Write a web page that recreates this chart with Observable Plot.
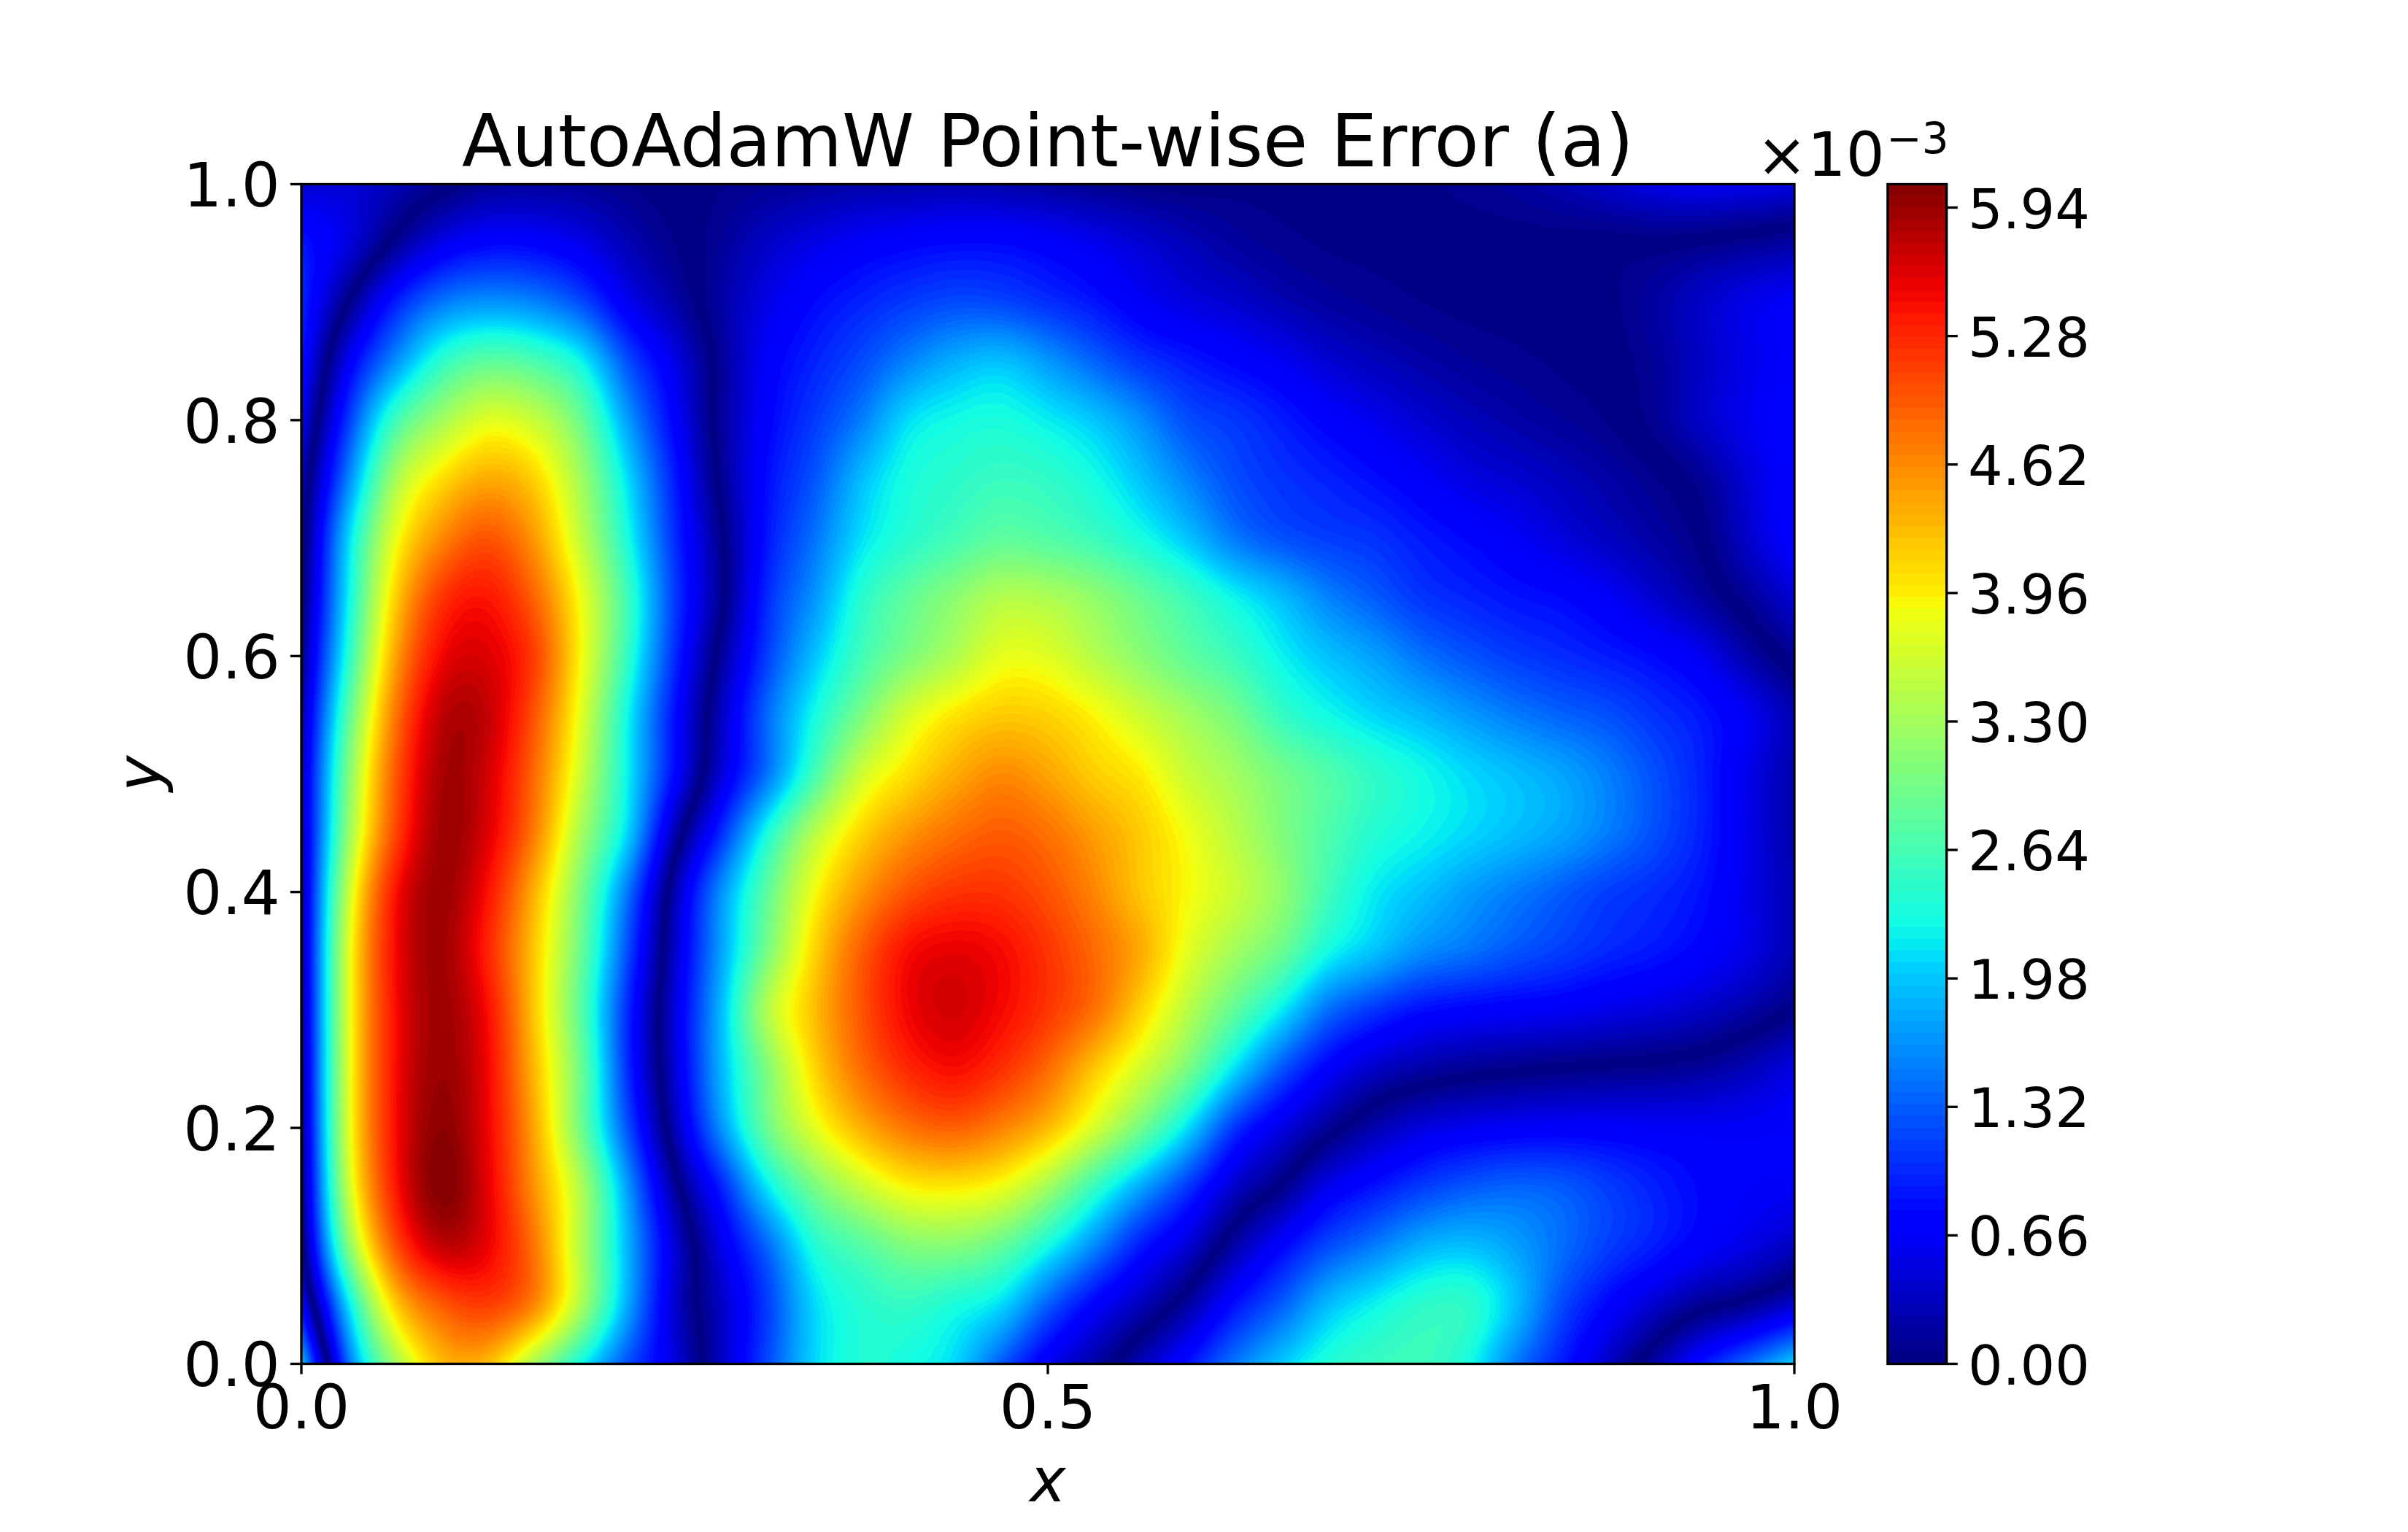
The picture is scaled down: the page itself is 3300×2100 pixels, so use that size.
<!DOCTYPE html>
<html>
<head>
<meta charset="utf-8">
<script src="https://cdn.jsdelivr.net/npm/d3@7"></script>
<script src="https://cdn.jsdelivr.net/npm/@observablehq/plot@0.6"></script>
<style>
html,body{margin:0;padding:0;background:#fff}
#chart{position:relative;width:3300px;height:2100px;overflow:hidden}
#chart svg{position:absolute;left:0;top:0;background:transparent}
</style>
</head>
<body>
<div id="chart"></div>
<script>
const titleText = "AutoAdamW Point-wise Error (a)";
const xLabel = "x";
const yLabel = "y";
const xTicks = [0, 0.5, 1];
const yTicks = [0, 0.2, 0.4, 0.6, 0.8, 1];
const barTicks = [0, 0.66, 1.32, 1.98, 2.64, 3.30, 3.96, 4.62, 5.28, 5.94];
const levelMax = 6.06;
const levelCount = 100;
const jetStops = [0, 0.11, 0.125, 0.34, 0.35, 0.375, 0.64, 0.65, 0.66, 0.89, 0.91, 1];
const jetColors = ["#000080","#0000ff","#0000ff","#00d5ff","#00e5f7","#13fce4","#f4ff0e","#fff000","#ffe800","#ff1400","#f10000","#800000"];

// Error, in units of 1e-3, at x = i/32 (columns) and y = 1 - j/20 (rows).
// The sign only tells the two sides of each dark zero valley apart; the chart draws the magnitude.
const errorRows = [
/*1.00*/[-.4,-.45,-.3,-.08,.12,.15,.12,.05,0,-.05,-.1,-.15,-.2,-.22,-.25,-.22,-.15,-.08,-.02,0,-.03,-.03,-.05,-.06,-.05,-.08,-.15,-.25,-.4,-.55,-.62,-.58,-.5],
/*0.95*/[-.9,-.55,.05,.55,.75,.72,.55,.25,.05,-.12,-.38,-.55,-.68,-.75,-.8,-.8,-.72,-.6,-.45,-.3,-.15,-.08,-.04,-.04,-.05,-.02,-.01,0,.03,.02,.06,.12,.2],
/*0.90*/[-1,0,.95,1.5,1.65,1.55,1.2,.55,.2,-.2,-.55,-.8,-.95,-1.1,-1.2,-1.15,-1,-.85,-.62,-.48,-.4,-.25,-.15,-.09,-.05,-.03,-.02,-.01,.03,.18,.4,.58,.7],
/*0.85*/[-.85,.65,1.6,2.5,2.85,2.7,2.3,1.2,.55,-.12,-.7,-.95,-1.2,-1.55,-1.85,-2,-1.7,-1.35,-1.05,-.9,-.75,-.62,-.42,-.3,-.2,-.12,-.08,-.04,-.01,.12,.35,.55,.72],
/*0.80*/[-.6,1.1,2.65,3.3,3.8,3.6,2.95,1.7,.7,-.15,-.75,-1.1,-1.5,-2.15,-2.3,-2.35,-2.2,-2,-1.65,-1.2,-1.1,-.92,-.72,-.58,-.42,-.3,-.2,-.12,-.05,.1,.4,.6,.78],
/*0.75*/[-.3,1.55,3.4,4.1,4.45,4.2,3.3,2.1,.9,-.1,-.85,-1.25,-1.95,-2.35,-2.45,-2.55,-2.5,-2.3,-1.95,-1.55,-1.2,-1.05,-.95,-.82,-.67,-.5,-.42,-.32,-.2,-.08,.08,.45,.8],
/*0.70*/[-.2,2.1,3.85,4.65,5.05,4.55,3.5,2.3,1,.05,-.9,-1.45,-2.12,-2.4,-2.6,-2.8,-2.7,-2.55,-2.3,-1.95,-1.45,-1.2,-1.1,-1.05,-.9,-.78,-.65,-.47,-.32,-.18,-.03,.4,.78],
/*0.65*/[-.1,2.2,4.2,5.25,5.45,4.9,3.85,2.6,1.1,.1,-1.05,-1.65,-2.45,-2.85,-3.15,-3.45,-3.4,-3.2,-2.9,-2.6,-2.25,-1.95,-1.55,-1.3,-1.05,-.95,-.85,-.8,-.65,-.4,-.15,.12,.45],
/*0.60*/[.05,2.4,4.5,5.55,5.65,5.2,3.9,2.5,1,-.15,-1.15,-1.95,-2.6,-3,-3.35,-3.8,-3.75,-3.4,-3.1,-2.8,-2.55,-2.2,-1.95,-1.75,-1.45,-1.25,-1.1,-1,-.9,-.8,-.62,-.2,.1],
/*0.55*/[.2,2.8,4.8,5.85,5.8,5,3.75,2.2,.8,-.35,-1.45,-2.3,-3,-3.7,-4.05,-4.2,-4.15,-3.95,-3.6,-3.3,-3,-2.5,-2.25,-2.05,-1.9,-1.7,-1.5,-1.35,-1.25,-1.05,-.9,-.65,-.25],
/*0.50*/[.3,3.1,5,5.95,5.7,4.85,3.6,2.2,.8,-.45,-1.4,-2.6,-3.65,-4.05,-4.4,-4.65,-4.45,-4.15,-4,-3.55,-3.3,-3,-2.75,-2.5,-2.3,-2.1,-1.95,-1.8,-1.55,-1.25,-.95,-.55,-.2],
/*0.45*/[.25,3.25,5.1,6,5.65,4.75,3.3,2.12,.2,-1,-2.4,-3.5,-4.15,-4.55,-4.8,-4.95,-4.8,-4.5,-4.2,-3.85,-3.45,-3.05,-2.7,-2.4,-2.25,-2.1,-1.95,-1.8,-1.55,-1.25,-.95,-.55,-.2],
/*0.40*/[.2,3.65,5.5,6,5.45,4.35,3,1.45,-.3,-1.7,-2.85,-3.9,-4.55,-5,-5.2,-5.2,-5,-4.65,-4.2,-3.9,-3.6,-3.2,-2.6,-2.15,-1.95,-1.7,-1.5,-1.3,-1.1,-1,-.85,-.55,-.25],
/*0.35*/[.18,3.85,5.55,5.98,5.3,4.2,2.9,1.2,-.4,-1.75,-3,-4.15,-4.95,-5.5,-5.6,-5.5,-5.2,-4.85,-4.45,-3.75,-3.3,-2.95,-2.3,-2,-1.65,-1.5,-1.3,-1.15,-1,-.9,-.75,-.55,-.25],
/*0.30*/[.15,3.85,5.5,5.98,5.5,4.2,2.75,.95,-.5,-1.9,-3.55,-4.3,-5,-5.55,-5.7,-5.5,-5.2,-4.85,-4.15,-3.45,-2.85,-2.2,-1.4,-1.05,-.8,-.72,-.68,-.65,-.55,-.48,-.38,-.22,-.02],
/*0.25*/[.12,3.85,5.5,6,5.55,4.3,2.95,.95,-.45,-1.9,-3.05,-4.15,-4.85,-5.3,-5.5,-5.25,-4.85,-4.2,-3.65,-3.05,-2.12,-1.25,-.67,-.35,-.2,-.1,-.04,.02,.05,.08,.15,.3,.55],
/*0.20*/[.08,3.85,5.5,6.08,5.55,4.45,2.9,1.2,-.3,-1.7,-3,-3.8,-4.4,-4.8,-4.95,-4.7,-4.35,-3.7,-3,-2.12,-1,-.5,-.12,.25,.5,.6,.65,.68,.68,.66,.65,.66,.7],
/*0.15*/[0,3.7,5.45,6.18,5.6,4.55,3.45,1.7,.1,-.9,-2.2,-3,-3.55,-3.95,-4,-3.85,-3.3,-2.5,-1.75,-1.05,-.35,0,.6,.85,1.1,1.3,1.4,1.35,1.15,.95,.78,.68,.65],
/*0.10*/[-.1,3.2,5.1,5.85,5.6,4.8,3.4,1.85,.45,-.55,-1.35,-2.4,-2.7,-3.05,-3.1,-2.85,-2.3,-1.6,-.85,-.45,.2,.75,1.2,1.5,1.85,1.95,1.75,1.45,1.15,.95,.72,.55,.35],
/*0.05*/[-.7,2.12,4.25,4.95,5.2,4.8,3.45,1.8,.35,-.35,-1.1,-2.1,-2.4,-2.5,-2.3,-2.12,-1.3,-.67,-.3,.15,.85,1.3,1.95,2.25,2.5,2.55,2,1.2,.75,.4,.1,-.03,-.35],
/*0.00*/[-2,1.5,3.3,4.35,4.35,3.3,2.25,1.2,.5,-.35,-1.2,-2.1,-2.4,-2.3,-2.1,-1.3,-.55,-.2,.3,.85,1.5,2,2.4,2.55,2.6,2.35,1.5,.9,.35,-.2,-.85,-1.4,-2.05]
];

const nCols = errorRows[0].length, nRows = errorRows.length;
const smoothing = 0.45;
function weights(t) {
  const t2 = t * t, t3 = t2 * t, m = smoothing;
  const cr = [-.5*t3 + t2 - .5*t, 1.5*t3 - 2.5*t2 + 1, -1.5*t3 + 2*t2 + .5*t, .5*t3 - .5*t2];
  const bs = [(1-t)*(1-t)*(1-t)/6, (3*t3 - 6*t2 + 4)/6, (-3*t3 + 3*t2 + 3*t + 1)/6, t3/6];
  return cr.map((w, i) => (1 - m) * w + m * bs[i]);
}
function cell(r, c) {
  if (r < 0) return 2 * cell(0, c) - cell(-r, c);
  if (r >= nRows) return 2 * cell(nRows - 1, c) - cell(2 * (nRows - 1) - r, c);
  if (c < 0) return 2 * cell(r, 0) - cell(r, -c);
  if (c >= nCols) return 2 * cell(r, nCols - 1) - cell(r, 2 * (nCols - 1) - c);
  return errorRows[r][c];
}
function magnitude(x, y) {
  const u = Math.max(0, Math.min(1, x)) * (nCols - 1), v = (1 - Math.max(0, Math.min(1, y))) * (nRows - 1);
  const c = Math.min(nCols - 2, Math.floor(u)), r = Math.min(nRows - 2, Math.floor(v));
  const wu = weights(u - c), wv = weights(v - r);
  let s = 0;
  for (let i = 0; i < 4; i++) for (let j = 0; j < 4; j++) s += wv[i] * wu[j] * cell(r - 1 + i, c - 1 + j);
  return Math.abs(s);
}

const step = levelMax / levelCount;
const levels = d3.range(levelCount).map(i => i * step);
const colorScale = {
  type: "linear",
  domain: jetStops.map(s => s * levelMax - step / 2),
  range: jetColors,
  clamp: true
};
const font = {fontFamily: "'DejaVu Sans'", background: "transparent", overflow: "visible", color: "black"};
const tickLen = 14.6, lineW = 3.33;

const main = Plot.plot({
  width: 3300, height: 2100,
  marginLeft: 412.5, marginRight: 841.5, marginTop: 252, marginBottom: 231,
  style: font,
  x: {domain: [0, 1]},
  y: {domain: [0, 1]},
  color: colorScale,
  marks: [
    Plot.contour({fill: magnitude, x1: 0, x2: 1, y1: 0, y2: 1, thresholds: levels, pixelSize: 2}),
    Plot.frame({stroke: "black", strokeWidth: lineW}),
    Plot.axisX({ticks: xTicks, tickFormat: d3.format(".1f"), tickSize: tickLen, tickPadding: tickLen, fontSize: 83.3, strokeWidth: lineW, label: null}),
    Plot.axisY({ticks: yTicks, tickSize: tickLen, fill: "none", strokeWidth: lineW, label: null}),
    Plot.axisY({ticks: yTicks, tickFormat: d3.format(".1f"), tickSize: 0, tickPadding: 2 * tickLen, fontSize: 83.3, dy: 4, label: null}),
    Plot.text([titleText], {frameAnchor: "top", lineAnchor: "bottom", dy: -25, fontSize: 100, fill: "black"}),
    Plot.text([xLabel], {frameAnchor: "bottom", lineAnchor: "bottom", dy: 188, fontSize: 83.3, fontStyle: "italic", fill: "black"}),
    Plot.text([yLabel], {frameAnchor: "left", dx: -220, dy: 24, rotate: -90, fontSize: 83.3, fontStyle: "italic", fill: "black"})
  ]
});

const bar = Plot.plot({
  width: 3300, height: 2100,
  marginLeft: 2586.4, marginRight: 632.8, marginTop: 252, marginBottom: 231,
  style: font,
  x: {domain: [0, 1], axis: null},
  y: {domain: [0, levelMax]},
  color: colorScale,
  marks: [
    Plot.rect(levels, {x1: 0, x2: 1, y1: d => d, y2: d => d + step, fill: d => d, inset: 0, shapeRendering: "crispEdges"}),
    Plot.frame({stroke: "black", strokeWidth: lineW}),
    Plot.axisY({anchor: "right", ticks: barTicks, tickSize: tickLen, fill: "none", strokeWidth: lineW, label: null}),
    Plot.axisY({anchor: "right", ticks: barTicks, tickFormat: d3.format(".2f"), tickSize: 0, tickPadding: 2 * tickLen, fontSize: 75, dy: 4, label: null}),
    Plot.text(["×10"], {frameAnchor: "top-right", textAnchor: "end", lineAnchor: "bottom", dx: -85, dy: -12, fontSize: 83.3, fill: "black"}),
    Plot.text(["−3"], {frameAnchor: "top-right", textAnchor: "end", lineAnchor: "bottom", dx: 3, dy: -43, fontSize: 58, fill: "black"})
  ]
});

document.getElementById("chart").append(main, bar);
</script>
</body>
</html>
